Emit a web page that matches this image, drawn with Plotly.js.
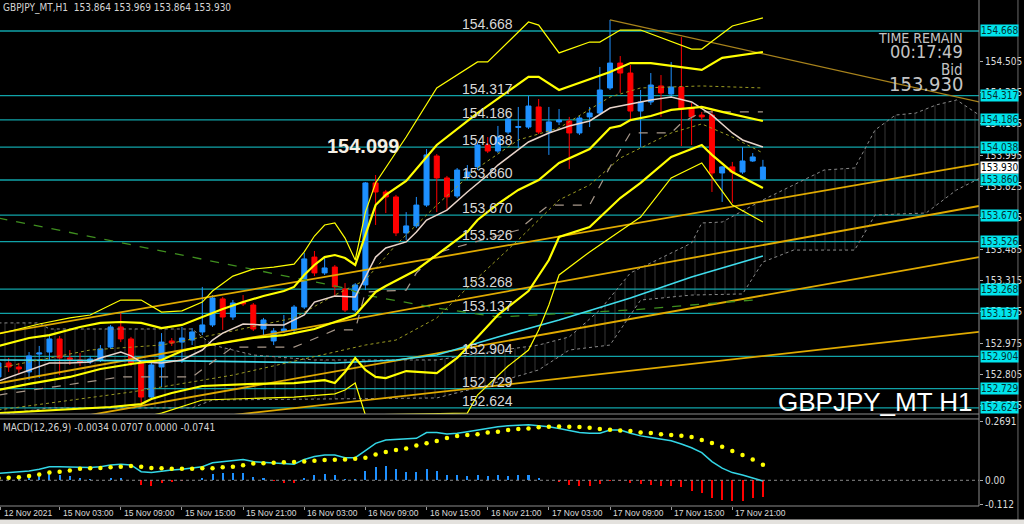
<!DOCTYPE html>
<html><head><meta charset="utf-8">
<script src="https://cdn.plot.ly/plotly-3.0.1.min.js"></script>
<style>html,body{margin:0;padding:0;background:#000;}#chart{width:1024px;height:524px;}</style>
</head><body><div id="chart"></div>
<script>
// ---- bar index (0 = 15 Nov 00:00, H1 bars) ----
const bars = [-3,-2,-1,0,1,2,3,4,5,6,7,8,9,10,11,12,13,14,15,16,17,18,19,20,21,22,23,24,25,26,27,28,29,30,31,32,33,34,35,36,37,38,39,40,41,42,43,44,45,46,47,48,49,50,51,52,53,54,55,56,57,58,59,60,61,62,63,64,65,66,67,68,69,70,71,72];
const open = [152.792,152.868,152.846,152.819,152.916,152.927,152.998,152.895,152.884,152.873,152.884,152.954,153.063,152.998,152.868,152.683,152.846,152.987,152.981,152.992,153.036,153.074,153.215,153.117,153.198,153.182,153.052,152.987,153.041,153.047,153.171,153.442,153.356,153.388,153.269,153.155,153.291,153.844,153.795,153.768,153.573,153.611,153.724,153.990,153.871,153.773,153.876,153.931,154.050,154.017,154.120,154.145,154.147,154.256,154.120,154.175,154.180,154.115,154.202,154.223,154.359,154.494,154.440,154.234,154.283,154.370,154.326,154.364,154.250,154.212,154.212,153.898,153.931,153.903,153.963,153.864];
const high = [152.884,152.895,152.868,152.927,152.960,153.019,153.014,152.938,152.922,152.906,152.965,153.074,153.139,153.009,152.873,152.868,153.030,153.003,153.063,153.057,153.280,153.236,153.226,153.209,153.236,153.193,153.112,153.057,153.128,153.182,153.464,153.475,153.437,153.399,153.301,153.301,153.849,153.887,153.806,153.779,153.686,153.768,154.028,154.001,153.882,153.925,153.941,154.061,154.093,154.153,154.202,154.256,154.316,154.299,154.256,154.245,154.202,154.207,154.256,154.473,154.728,154.532,154.484,154.348,154.440,154.429,154.500,154.635,154.278,154.229,154.240,153.936,153.958,154.039,154.006,153.969];
const low = [152.775,152.819,152.813,152.775,152.786,152.884,152.802,152.857,152.851,152.862,152.873,152.944,152.981,152.851,152.651,152.667,152.737,152.960,152.868,152.965,153.019,153.063,153.047,153.101,153.177,153.041,153.019,152.965,153.030,153.036,153.160,153.339,153.345,153.226,153.144,153.144,153.263,153.616,153.681,153.556,153.535,153.600,153.714,153.686,153.697,153.762,153.860,153.914,154.006,154.006,154.109,154.034,154.137,154.109,153.996,154.158,153.920,154.104,154.147,154.212,154.348,154.332,154.185,154.039,154.267,154.202,154.310,154.044,154.050,154.185,153.795,153.741,153.735,153.893,153.958,153.864];
const close = [152.868,152.846,152.835,152.906,152.922,152.998,152.895,152.887,152.873,152.889,152.944,153.063,152.998,152.868,152.683,152.857,152.981,152.976,153.003,153.036,153.074,153.220,153.117,153.193,153.188,153.052,153.101,153.041,153.052,153.171,153.432,153.356,153.383,153.280,153.155,153.291,153.844,153.795,153.768,153.573,153.611,153.724,153.996,153.871,153.768,153.914,153.903,154.050,154.017,154.093,154.191,154.150,154.261,154.120,154.175,154.185,154.115,154.196,154.223,154.348,154.494,154.440,154.234,154.283,154.375,154.332,154.364,154.245,154.202,154.202,153.898,153.931,153.903,153.963,153.985,153.930];

// ---- time axis labels ----
const tickK = [-2.8,3,9,15,21,27,33,39,45,51,57,63,69];
const tickText = ['12 Nov 2021','15 Nov 03:00','15 Nov 09:00','15 Nov 15:00','15 Nov 21:00','16 Nov 03:00','16 Nov 09:00','16 Nov 15:00','16 Nov 21:00','17 Nov 03:00','17 Nov 09:00','17 Nov 15:00','17 Nov 21:00'];

// ---- price axis ----
const axisTicks = [154.505,154.335,154.165,153.995,153.825,153.655,153.485,153.315,153.145,152.975,152.805,152.635];
const levels = [154.668,154.317,154.186,154.038,153.860,153.670,153.526,153.268,153.137,152.904,152.729,152.624];
const bid = 153.930;

// ---- Bollinger bands ----
const u3K = [-3,1,4,6,8,9,11,13,15,17,18,20,22,24,26,27,28,29,30,31,32,33,34,37,40,44,45,49,50,52,55,56,58,60,65,66,69,72];
const u3P = [153.025,153.079,153.112,153.128,153.182,153.209,153.209,153.144,153.150,153.198,153.258,153.339,153.377,153.388,153.404,153.470,153.556,153.616,153.627,153.545,153.426,153.686,153.844,154.093,154.359,154.500,154.500,154.717,154.700,154.549,154.608,154.608,154.673,154.673,154.570,154.570,154.695,154.739];
const u2K = [-3,0,2,5,7,9,11,13,15,17,19,21,23,25,26,27,28,29,30,31,32,33,34,35,37,40,44,49,50,52,57,59,61,66,68,72];
const u2P = [152.960,153.003,153.019,153.063,153.085,153.090,153.085,153.057,153.074,153.117,153.160,153.198,153.231,153.258,153.280,153.345,153.399,153.442,153.453,153.437,153.399,153.562,153.724,153.779,153.855,154.050,154.223,154.419,154.419,154.348,154.446,154.494,154.494,154.457,154.522,154.554];
const u1K = [-3,6,13,19,26,30,33,36,40,44,48,52,57,60,66,72];
const u1P = [152.841,152.938,152.965,153.030,153.112,153.236,153.318,153.508,153.724,153.925,154.077,154.142,154.310,154.359,154.370,154.359];
const midK = [-3,0,4,7,10,13,15,17,19,22,25,28,30,32,34,35,38,40,43,44,46,48,50,52,55,57,58,59,61,63,66,68,72];
const midP = [152.721,152.754,152.792,152.835,152.862,152.884,152.933,152.960,152.976,153.003,153.019,153.052,153.090,153.128,153.253,153.285,153.372,153.453,153.578,153.643,153.730,153.806,153.860,153.952,154.028,154.142,154.153,154.185,154.207,154.240,154.256,154.229,154.180];
const l1K = [-3,10,20,30,33,36,40,44,48,52,55,58,60,63,66,69,72];
const l1P = [152.613,152.710,152.802,152.927,152.965,152.992,153.112,153.329,153.535,153.752,153.833,153.979,154.034,154.115,154.164,154.093,154.006];
const l2K = [-3,3,8,11,12,14,17,22,26,29,30,31,32,33,34,35,37,40,42,44,46,49,51,52,55,58,60,63,66,67,69,72];
const l2P = [152.596,152.613,152.629,152.645,152.672,152.705,152.743,152.754,152.759,152.775,152.759,152.819,152.895,152.830,152.792,152.786,152.824,152.813,152.895,153.009,153.128,153.258,153.426,153.551,153.605,153.762,153.844,153.985,154.050,153.996,153.903,153.817];
const l3K = [10,13,17,26,30,31,32,33,43,44,47,49,50,51,52,55,58,60,63,66,67,69,72];
const l3P = [152.559,152.596,152.667,152.683,152.700,152.721,152.759,152.586,152.596,152.694,152.851,152.938,153.047,153.182,153.345,153.470,153.583,153.659,153.871,153.952,153.876,153.724,153.632];

// ---- moving averages ----
const fastMaK = [-3,0,2,4,6,7,9,10,11,13,15,17,18,19,21,23,25,27,28,30,32,33,34,35,37,38,39,41,43,45,46,49,51,53,55,57,59,61,63,65,67,69,70,72];
const fastMaP = [152.770,152.830,152.868,152.868,152.873,152.895,152.927,152.906,152.873,152.868,152.884,152.938,152.992,153.030,153.079,153.074,153.074,153.128,153.198,153.231,153.226,153.334,153.442,153.491,153.524,153.578,153.643,153.697,153.795,153.887,153.941,154.066,154.115,154.153,154.180,154.250,154.272,154.294,154.310,154.283,154.212,154.115,154.077,154.039];
const slowMaK = [-3,15,30,36,40,46,52,59,65,72];
const slowMaP = [152.884,152.879,152.868,152.884,152.911,153.009,153.101,153.220,153.334,153.448];
const longMaK = [-3,14,31,33,40,46,53,59,65,71];
const longMaP = [153.654,153.464,153.274,153.236,153.166,153.117,153.139,153.155,153.182,153.209];
const kijunK = [-3,9,16,20,26,27,30,32,33,37,38,40,42,45,48,50,51,55,57,59,63,64,66,72];
const kijunP = [152.694,152.792,152.792,152.954,152.954,152.976,153.047,153.047,153.253,153.263,153.356,153.464,153.497,153.545,153.589,153.681,153.724,153.724,153.931,154.115,154.115,154.169,154.229,154.229];

// ---- Ichimoku cloud ----
const cloudTopK = [-3,1,2,16,18,22,28,40,45,50,53,56,59,65,66,68,72,75,78,81,83,85,87,89,91,93.5];
const cloudTopP = [153.085,153.085,153.052,153.052,152.965,152.911,152.884,152.884,152.927,152.965,153.009,153.155,153.356,153.518,153.627,153.632,153.752,153.833,153.914,153.925,154.131,154.212,154.223,154.267,154.294,154.202];
const cloudBotK = [-3,2,16,18,40,45,50,53,57,60,65,70,72,75,81,83,88,91,93.5];
const cloudBotP = [152.586,152.624,152.624,152.667,152.678,152.748,152.830,152.938,152.965,153.209,153.236,153.242,153.415,153.480,153.480,153.670,153.681,153.806,153.876];

// ---- trend lines (start bar, start price, end bar, end price) ----
const trendK0 = [-2.85,-2.85,-2.85,-2.85,57];
const trendP0 = [153.030,152.759,152.499,152.445,154.728];
const trendK1 = [93.2,93.2,93.2,93.2,93.2];
const trendP1 = [153.947,153.719,153.442,153.036,154.283];
const trendColor = ['#e0aa00','#e0aa00','#e0aa00','#e0aa00','#a8831c'];

// ---- MACD(12,26,9) ----
const macdLine = [0.032,0.035,0.038,0.042,0.050,0.062,0.062,0.062,0.059,0.058,0.062,0.070,0.073,0.070,0.039,0.036,0.042,0.047,0.050,0.055,0.062,0.080,0.085,0.089,0.095,0.085,0.082,0.080,0.074,0.073,0.095,0.108,0.115,0.115,0.103,0.103,0.135,0.168,0.183,0.186,0.188,0.191,0.217,0.217,0.211,0.214,0.221,0.229,0.236,0.244,0.248,0.252,0.253,0.248,0.244,0.236,0.226,0.217,0.214,0.214,0.229,0.229,0.214,0.202,0.195,0.186,0.180,0.165,0.148,0.126,0.085,0.055,0.035,0.024,0.012,-0.0034];
const macdSignal = [0.010,0.012,0.014,0.020,0.026,0.035,0.039,0.045,0.052,0.055,0.056,0.059,0.062,0.065,0.062,0.056,0.055,0.052,0.053,0.053,0.055,0.055,0.059,0.062,0.068,0.076,0.077,0.080,0.082,0.083,0.086,0.089,0.092,0.094,0.095,0.098,0.103,0.117,0.129,0.138,0.145,0.158,0.168,0.179,0.192,0.202,0.206,0.209,0.217,0.221,0.229,0.233,0.236,0.241,0.244,0.245,0.244,0.242,0.239,0.233,0.230,0.227,0.224,0.218,0.215,0.209,0.206,0.203,0.197,0.183,0.170,0.153,0.133,0.115,0.095,0.0707];
const macdHist = [0.015,0.017,0.017,0.020,0.027,0.032,0.024,0.020,0.009,0.005,0.003,0.012,0.009,0.002,-0.021,-0.026,-0.014,-0.008,-0.003,0.002,0.012,0.029,0.032,0.035,0.032,0.014,0.009,-0.003,-0.011,-0.011,0.012,0.024,0.029,0.023,0.006,0.008,0.044,0.062,0.065,0.050,0.039,0.039,0.050,0.044,0.024,0.023,0.020,0.023,0.020,0.023,0.020,0.023,0.023,0.009,0.000,-0.008,-0.021,-0.026,-0.026,-0.017,-0.003,-0.002,-0.014,-0.017,-0.020,-0.026,-0.026,-0.032,-0.048,-0.056,-0.079,-0.089,-0.094,-0.092,-0.082,-0.0741];
const macdTicks = [0.2691,0,-0.112];
const macdTickText = ['0.2691','0.00','-0.112'];

// ================= drawing =================
const NARROW = '"Liberation Sans Narrow","DejaVu Sans Condensed","Liberation Sans",Arial,sans-serif';
const SANS = '"Liberation Sans",Arial,sans-serif';
const last = bars.length - 1;

function ln(x, y, color, width, dash) {
  return {type:'scatter', mode:'lines', x:x, y:y, xaxis:'x', yaxis:'y', hoverinfo:'skip',
          line:{color:color, width:width, dash:dash || 'solid'}};
}

const traces = [];
traces.push({type:'scatter', mode:'lines', xaxis:'x', yaxis:'y', hoverinfo:'skip',
  x: cloudTopK.concat(cloudBotK.slice().reverse()),
  y: cloudTopP.concat(cloudBotP.slice().reverse()),
  fill:'toself', fillcolor:'rgba(0,0,0,0)',
  fillpattern:{shape:'|', fgcolor:'#6e6e6e', bgcolor:'rgba(0,0,0,0)', size:10, solidity:0.08, fgopacity:0.6},
  line:{color:'#8a8a8a', width:1, dash:'dot'}});
for (let i = 0; i < trendK0.length; i++) {
  traces.push(ln([trendK0[i], trendK1[i]], [trendP0[i], trendP1[i]], trendColor[i], i < 4 ? 1.8 : 1.2));
}
traces.push(ln(longMaK, longMaP, '#3f8f1f', 1.3, 'dash'));
traces.push(ln(slowMaK, slowMaP, '#3fdcec', 1.6));
traces.push(ln(kijunK, kijunP, '#a8988a', 1.2, 'dash'));
traces.push(ln(u1K, u1P, '#9c9c22', 1, 'dot'));
traces.push(ln(l1K, l1P, '#9c9c22', 1, 'dot'));
traces.push({type:'candlestick', x:bars, open:open, high:high, low:low, close:close,
  xaxis:'x', yaxis:'y', hoverinfo:'skip', whiskerwidth:0,
  increasing:{line:{color:'#1e90ff', width:1}, fillcolor:'#1e90ff'},
  decreasing:{line:{color:'#ff0000', width:1}, fillcolor:'#ff0000'}});
traces.push(ln(fastMaK, fastMaP, '#e8d4ca', 1.5));
traces.push(ln(u3K, u3P, '#ffff00', 1.2));
traces.push(ln(l3K, l3P, '#ffff00', 1.2));
traces.push(ln(u2K, u2P, '#ffff00', 2.2));
traces.push(ln(midK, midP, '#ffff00', 2.2));
traces.push(ln(l2K, l2P, '#ffff00', 2.2));
// MACD panel
traces.push({type:'bar', x:bars, y:macdHist, xaxis:'x', yaxis:'y2', width:0.2, hoverinfo:'skip',
  marker:{color: macdHist.map(v => v >= 0 ? '#1e90ff' : '#ff0000'), line:{width:0}}});
traces.push({type:'scatter', mode:'lines', x:bars, y:macdLine, xaxis:'x', yaxis:'y2', hoverinfo:'skip',
  line:{color:'#33d6e6', width:1.5}});
traces.push({type:'scatter', mode:'markers', x:bars, y:macdSignal, xaxis:'x', yaxis:'y2', hoverinfo:'skip',
  marker:{color:'#ffff00', size:4.5}});

const shapes = [];
levels.forEach(v => shapes.push({type:'line', xref:'paper', x0:0, x1:1, yref:'y', y0:v, y1:v,
  line:{color:'#10a3a8', width:1.3}, layer:'below'}));
shapes.push({type:'line', xref:'paper', x0:0, x1:1, yref:'y2', y0:0, y1:0, line:{color:'#8a8a8a', width:1, dash:'dot'}});
shapes.push({type:'line', xref:'paper', yref:'paper', x0:1, x1:1, y0:0, y1:1, line:{color:'#8c8c8c', width:1}});
shapes.push({type:'line', xref:'paper', yref:'paper', x0:0, x1:1.0, y0:0.1818, y1:0.1818, line:{color:'#8c8c8c', width:1}});
shapes.push({type:'line', xref:'paper', yref:'paper', x0:0, x1:1.0, y0:0.172, y1:0.172, line:{color:'#8c8c8c', width:1}});
shapes.push({type:'line', xref:'paper', yref:'paper', x0:0, x1:1, y0:0, y1:0, line:{color:'#8c8c8c', width:1}});
shapes.push({type:'line', xref:'paper', yref:'paper', x0:1.0398, x1:1.0398, y0:-0.03, y1:1, line:{color:'#6a6a6a', width:1}});
shapes.push({type:'rect', xref:'paper', yref:'paper', x0:-0.01, x1:1.06, y0:-0.0375, y1:-0.0265, fillcolor:'#e4e2de', line:{width:0}});

const annotations = [];
annotations.push({xref:'paper', yref:'paper', x:0.001, y:1, xanchor:'left', yanchor:'top', yshift:0, showarrow:false,
  text:'GBPJPY_MT,H1\u00a0\u00a0' + [open[last], high[last], low[last], close[last]].map(v => v.toFixed(3)).join(' '),
  font:{family:NARROW, size:10, color:'#d4d4d4'}});
annotations.push({xref:'paper', yref:'paper', x:0.001, y:0.172, xanchor:'left', yanchor:'top', yshift:-1, showarrow:false,
  text:'MACD(12,26,9) -0.0034 0.0707 0.0000 -0.0741', font:{family:NARROW, size:10, color:'#d4d4d4'}});
// time labels, left-aligned just right of their tick (MT4 style)
tickK.forEach((k, i) => annotations.push({xref:'x', yref:'paper', x:k, y:0, xanchor:'left', yanchor:'top',
  xshift:1, yshift:0, showarrow:false, text:tickText[i], borderpad:1,
  font:{family:SANS, size:8.5, color:'#dcdcdc'}}));
levels.forEach(v => {
  annotations.push({xref:'paper', yref:'y', x:0.4695, y:v, xanchor:'left', yanchor:'bottom', yshift:-3, showarrow:false,
    text:v.toFixed(3), font:{family:SANS, size:14, color:'#d8d8d8'}});
  annotations.push({xref:'paper', yref:'y', x:1, y:v, xanchor:'left', yanchor:'middle', xshift:1, showarrow:false,
    text:v.toFixed(3), width:37, height:11, align:'left', borderpad:0, bgcolor:'#00e4ec',
    font:{family:NARROW, size:10, color:'#05302f'}});
});
annotations.push({xref:'paper', yref:'y', x:1, y:bid, xanchor:'left', yanchor:'middle', xshift:1, showarrow:false,
  text:bid.toFixed(3), width:37, height:11, align:'left', borderpad:0, bgcolor:'#ffffff',
  font:{family:NARROW, size:10, color:'#000000'}});
annotations.push({xref:'paper', yref:'y', x:0.332, y:154.044, xanchor:'left', yanchor:'middle', showarrow:false,
  text:'<b>154.099</b>', font:{family:SANS, size:20, color:'#f4efe4'}});
annotations.push({xref:'paper', yref:'paper', x:0.9857, y:0.9249, xanchor:'right', yanchor:'middle', showarrow:false,
  text:'TIME REMAIN', font:{family:NARROW, size:14, color:'#c4c4c4'}});
annotations.push({xref:'paper', yref:'paper', x:0.9857, y:0.8992, xanchor:'right', yanchor:'middle', showarrow:false,
  text:'00:17:49', font:{family:NARROW, size:18, color:'#c4c4c4'}});
annotations.push({xref:'paper', yref:'paper', x:0.9857, y:0.8617, xanchor:'right', yanchor:'middle', showarrow:false,
  text:'Bid', font:{family:NARROW, size:15, color:'#c4c4c4'}});
annotations.push({xref:'paper', yref:'paper', x:0.9857, y:0.834, xanchor:'right', yanchor:'middle', showarrow:false,
  text:bid.toFixed(3), font:{family:NARROW, size:20, color:'#c4c4c4'}});
annotations.push({xref:'paper', yref:'paper', x:0.996, y:0.2055, xanchor:'right', yanchor:'middle', showarrow:false,
  text:'GBPJPY_MT H1', font:{family:SANS, size:26, color:'#ffffff'}});

const axisFont = {family:NARROW, size:10, color:'#dcdcdc'};
const layout = {
  width:1024, height:524,
  paper_bgcolor:'#000', plot_bgcolor:'#000',
  margin:{l:0, r:45, t:0, b:18, pad:0},
  showlegend:false, hovermode:false, bargap:0,
  font:{family:NARROW, size:10, color:'#dcdcdc'},
  xaxis:{domain:[0,1], anchor:'y2', range:[-2.85, 93.2], type:'linear',
    tickmode:'array', tickvals:tickK, showticklabels:false, ticks:'outside', ticklen:3, tickcolor:'#9a9a9a',
    showgrid:false, zeroline:false, showline:false,
    rangeslider:{visible:false}, fixedrange:true},
  yaxis:{domain:[0.1818,1], anchor:'x', side:'right', range:[152.591,154.836],
    tickmode:'array', tickvals:axisTicks, ticktext:axisTicks.map(v => v.toFixed(3)),
    ticks:'outside', ticklen:3, tickcolor:'#aaaaaa', showgrid:false, zeroline:false, showline:false,
    tickfont:axisFont, fixedrange:true},
  yaxis2:{domain:[0,0.172], anchor:'x', side:'right', range:[-0.117,0.279],
    tickmode:'array', tickvals:macdTicks, ticktext:macdTickText,
    ticks:'outside', ticklen:3, tickcolor:'#aaaaaa', showgrid:false, zeroline:false, showline:false,
    tickfont:axisFont, fixedrange:true},
  shapes:shapes, annotations:annotations
};

Plotly.newPlot('chart', traces, layout, {staticPlot:true, displayModeBar:false});
</script>
</body></html>
